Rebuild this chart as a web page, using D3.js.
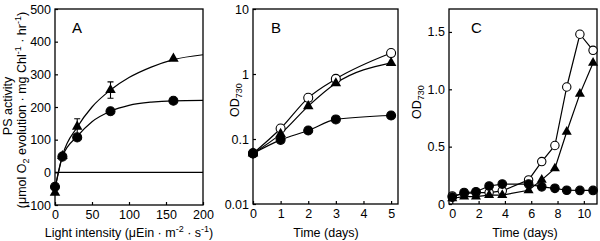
<!DOCTYPE html>
<html>
<head>
<meta charset="utf-8">
<script src="https://cdn.jsdelivr.net/npm/d3@7"></script>
<style>
body { margin: 0; background: #fff; }
svg text { font-family: "Liberation Sans", Arial, sans-serif; fill: #000; }
</style>
</head>
<body>
<svg id="fig" width="600" height="241"></svg>
<script>
// panel A: PS activity vs light
const lightA = [0, 10, 30, 75, 160];
const psTri = [-62, 50, 140, 252, 348];
const psTriErr = [0, 0, 24, 25, 0];
const psCirc = [-44, 48, 107, 187, 219];
// fitted curves
const fitLight = [0, 10, 30, 50, 75, 100, 130, 160, 200];
const fitTri = [-50, 50, 138, 200, 252, 290, 322, 345, 360];
const fitCirc = [-50, 48, 110, 155, 187, 205, 215, 219, 220];
const ticksAx = [0, 50, 100, 150, 200];
const ticksAy = [-100, 0, 100, 200, 300, 400, 500];

// panel B: OD730 (log) vs days
const daysB = [0, 1, 2, 3, 5];
const odOpenB = [0.06, 0.145, 0.43, 0.84, 2.1];
const odTriB = [0.06, 0.12, 0.32, 0.72, 1.48];
const odFillB = [0.06, 0.097, 0.135, 0.20, 0.23];
const ticksBx = [0, 1, 2, 3, 4, 5];
const ticksBy = [0.01, 0.1, 1, 10];

// panel C: OD730 (linear) vs days
const daysC = [0, 0.9, 1.8, 2.8, 3.8, 5.8, 6.8, 7.8, 8.7, 9.7, 10.7];
const odOpenC = [0.07, 0.09, 0.10, 0.10, 0.115, 0.21, 0.37, 0.51, 1.02, 1.48, 1.34];
const odTriC = [0.05, 0.065, 0.065, 0.078, 0.078, 0.12, 0.21, 0.31, 0.63, 0.96, 1.23];
const odFillC = [0.06, 0.10, 0.107, 0.157, 0.174, 0.174, 0.15, 0.137, 0.12, 0.118, 0.118];
const ticksCx = [0, 2, 4, 6, 8, 10];
const ticksCy = [0, 0.5, 1.0, 1.5];

const svg = d3.select('#fig');
const fontSize = 12.5;

// text with sub/superscripts: parts = [[text, 'sub'|'sup'|null], ...]
function rich(sel, parts) {
  let off = 0;
  parts.forEach(([t, kind]) => {
    const target = kind === 'sub' ? 3 : kind === 'sup' ? -5 : 0;
    const ts = sel.append('tspan').attr('dy', target - off).text(t);
    if (kind) ts.attr('font-size', '0.72em');
    off = target;
  });
  return sel;
}

function panel(box, x, y, xt, yt, yfmt) {
  const g = svg.append('g');
  g.append('g')
      .attr('transform', `translate(0,${box.bottom})`)
      .call(d3.axisBottom(x).tickValues(xt).tickFormat(d => String(d))
        .tickSizeInner(-3).tickSizeOuter(0).tickPadding(5))
      .attr('font-size', fontSize)
      .call(a => a.select('.domain').remove());
  g.append('g')
      .attr('transform', `translate(${box.left},0)`)
      .call(d3.axisLeft(y).tickValues(yt).tickFormat(yfmt)
        .tickSizeInner(-3).tickSizeOuter(0).tickPadding(4))
      .attr('font-size', fontSize)
      .call(a => a.select('.domain').remove());
  g.selectAll('.tick line').attr('stroke-width', 1.2);
  g.append('rect')
      .attr('x', box.left)
      .attr('y', box.top)
      .attr('width', box.right - box.left)
      .attr('height', box.bottom - box.top)
      .attr('fill', 'none')
      .attr('stroke', '#000')
      .attr('stroke-width', 1.3);
  return g;
}

function drawLine(g, xs, ys, x, y, curve) {
  g.append('path')
      .datum(d3.range(xs.length))
      .attr('fill', 'none')
      .attr('stroke', '#000')
      .attr('stroke-width', 1.2)
      .attr('d', d3.line().x(i => x(xs[i])).y(i => y(ys[i])).curve(curve));
}

function drawMarks(g, xs, ys, x, y, type, r) {
  const idx = d3.range(xs.length);
  if (type === 'tri') {
    g.selectAll(null).data(idx).enter().append('path')
        .attr('transform', i => `translate(${x(xs[i])},${y(ys[i])})`)
        .attr('d', d3.symbol(d3.symbolTriangle, r * r * 2.6));
  } else {
    g.selectAll(null).data(idx).enter().append('circle')
        .attr('cx', i => x(xs[i]))
        .attr('cy', i => y(ys[i]))
        .attr('r', r)
        .attr('fill', type === 'open' ? '#fff' : '#000')
        .attr('stroke', '#000')
        .attr('stroke-width', 1.1);
  }
}

function panelLetter(t, px) {
  svg.append('text').attr('x', px).attr('y', 33).attr('font-size', 15).text(t);
}

function xLabel(cx, parts) {
  rich(svg.append('text').attr('x', cx).attr('y', 237).attr('font-size', fontSize)
      .attr('text-anchor', 'middle'), parts);
}

function yLabel(px, py, parts) {
  rich(svg.append('text').attr('transform', `translate(${px},${py}) rotate(-90)`)
      .attr('font-size', fontSize).attr('text-anchor', 'middle'), parts);
}

// ---- A ----
const boxA = { left: 55, right: 203, top: 9, bottom: 205 };
const xA = d3.scaleLinear().domain([0, 200]).range([boxA.left, boxA.right]);
const yA = d3.scaleLinear().domain([-100, 500]).range([boxA.bottom, boxA.top]);
const gA = panel(boxA, xA, yA, ticksAx, ticksAy, d => String(d));
gA.append('line')
    .attr('x1', boxA.left).attr('x2', boxA.right)
    .attr('y1', yA(0)).attr('y2', yA(0))
    .attr('stroke', '#000').attr('stroke-width', 1.2);
drawLine(gA, fitLight, fitTri, xA, yA, d3.curveMonotoneX);
drawLine(gA, fitLight, fitCirc, xA, yA, d3.curveMonotoneX);
lightA.forEach((l, i) => {
  if (!psTriErr[i]) return;
  const cx = xA(l), y1 = yA(psTri[i] + psTriErr[i]), y2 = yA(psTri[i] - psTriErr[i]);
  gA.append('path')
      .attr('d', `M${cx},${y1}V${y2}M${cx - 3},${y1}H${cx + 3}M${cx - 3},${y2}H${cx + 3}`)
      .attr('stroke', '#000').attr('stroke-width', 1.1).attr('fill', 'none');
});
drawMarks(gA, lightA, psTri, xA, yA, 'tri', 4.3);
drawMarks(gA, lightA, psCirc, xA, yA, 'fill', 4.5);
panelLetter('A', 72);
xLabel(129, [['Light intensity (μEin · m'], ['-2', 'sup'], [' · s'], ['-1', 'sup'], [')']]);
yLabel(12, 106, [['PS activity']]);
yLabel(26, 110, [['(μmol O'], ['2', 'sub'], [' evolution · mg Chl'], ['-1', 'sup'], [' · hr'], ['-1', 'sup'], [')']]);

// ---- B ----
const boxB = { left: 253, right: 398, top: 9, bottom: 204 };
const xB = d3.scaleLinear().domain([0, 5.25]).range([boxB.left, boxB.right]);
const yB = d3.scaleLog().domain([0.01, 10]).range([boxB.bottom, boxB.top]);
const gB = panel(boxB, xB, yB, ticksBx, ticksBy, d => String(d));
drawLine(gB, daysB, odOpenB, xB, yB, d3.curveMonotoneX);
drawLine(gB, daysB, odTriB, xB, yB, d3.curveMonotoneX);
drawLine(gB, daysB, odFillB, xB, yB, d3.curveMonotoneX);
drawMarks(gB, daysB, odOpenB, xB, yB, 'open', 4.5);
drawMarks(gB, daysB, odTriB, xB, yB, 'tri', 4.3);
drawMarks(gB, daysB, odFillB, xB, yB, 'fill', 4.5);
panelLetter('B', 271);
xLabel(326, [['Time (days)']]);
yLabel(239, 100, [['OD'], ['730', 'sub']]);

// ---- C ----
const boxC = { left: 449, right: 597, top: 9, bottom: 204 };
const xC = d3.scaleLinear().domain([-0.25, 11]).range([boxC.left, boxC.right]);
const yC = d3.scaleLinear().domain([0, 1.7]).range([boxC.bottom, boxC.top]);
const gC = panel(boxC, xC, yC, ticksCx, ticksCy, d => d === 0 ? '0' : d.toFixed(1));
drawLine(gC, daysC, odOpenC, xC, yC, d3.curveLinear);
drawLine(gC, daysC, odTriC, xC, yC, d3.curveLinear);
drawLine(gC, daysC, odFillC, xC, yC, d3.curveLinear);
drawMarks(gC, daysC, odOpenC, xC, yC, 'open', 4.2);
drawMarks(gC, daysC, odTriC, xC, yC, 'tri', 4.1);
drawMarks(gC, daysC, odFillC, xC, yC, 'fill', 4.3);
panelLetter('C', 471);
xLabel(525, [['Time (days)']]);
yLabel(421, 102, [['OD'], ['730', 'sub']]);
</script>
</body>
</html>
